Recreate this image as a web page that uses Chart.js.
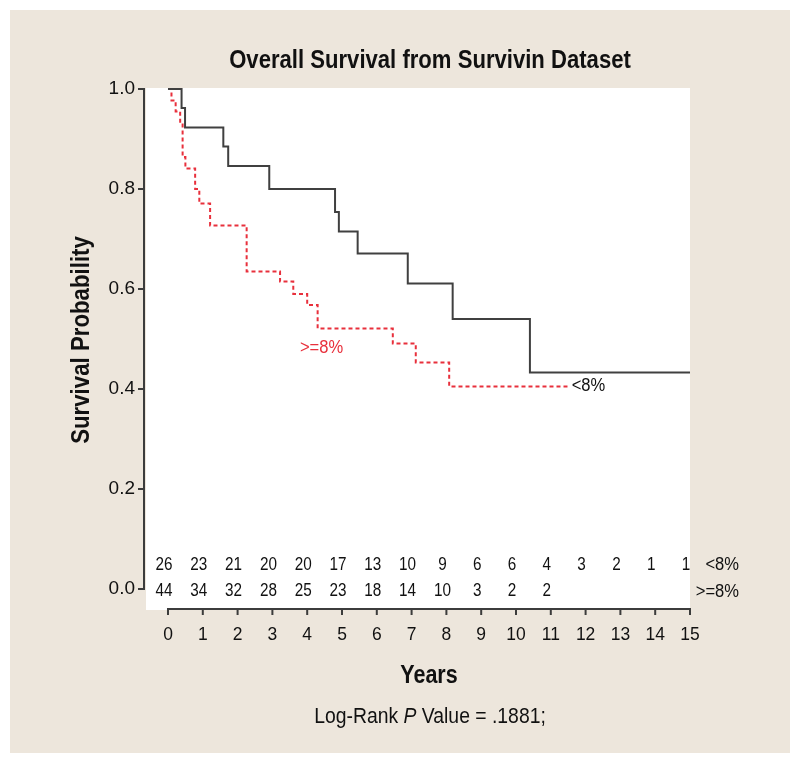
<!DOCTYPE html>
<html>
<head>
<meta charset="utf-8">
<script src="https://cdn.jsdelivr.net/npm/chart.js@4.4.1/dist/chart.umd.min.js"></script>
<style>
html, body { margin: 0; padding: 0; background: #fff; }
canvas { display: block; }
</style>
</head>
<body>
<canvas id="kmChart" width="800" height="764"></canvas>
<script>
// Kaplan-Meier steps (years, survival probability)
const lowTimes = [0, 0.39, 0.49, 1.59, 1.73, 2.91, 4.80, 4.91, 5.45, 6.89, 8.18, 10.40, 15];
const lowSurv = [1.0, 0.962, 0.923, 0.885, 0.846, 0.800, 0.754, 0.715, 0.671, 0.611, 0.540, 0.433, 0.433];

const highTimes = [0, 0.10, 0.22, 0.35, 0.42, 0.50, 0.78, 0.90, 1.21, 2.26, 3.22, 3.60, 4.00, 4.30, 6.46, 7.12, 8.08, 11.5];
const highSurv = [1.0, 0.977, 0.955, 0.932, 0.864, 0.841, 0.800, 0.771, 0.727, 0.635, 0.615, 0.590, 0.568, 0.521, 0.491, 0.453, 0.405, 0.405];

const yearTicks = [0, 1, 2, 3, 4, 5, 6, 7, 8, 9, 10, 11, 12, 13, 14, 15];
const probTicks = [0, 0.2, 0.4, 0.6, 0.8, 1.0];

// numbers at risk under each year tick
const atRiskLow = [26, 23, 21, 20, 20, 17, 13, 10, 9, 6, 6, 4, 3, 2, 1, 1];
const atRiskHigh = [44, 34, 32, 28, 25, 23, 18, 14, 10, 3, 2, 2];
const groupNames = ['<8%', '>=8%'];

const FONT = '"Liberation Sans", Arial, Helvetica, sans-serif';
const INK = '#111111';
const AXIS = '#3c3c3c';
const RED = '#e8303c';

const toPoints = (xs, ys) => xs.map((x, i) => ({ x: x, y: ys[i] }));

// no condensed face installed, so squeeze the text horizontally
function squeezed(ctx, text, x, y, sx) {
    ctx.save();
    ctx.translate(x, y);
    ctx.scale(sx, 1);
    ctx.fillText(text, 0, 0);
    ctx.restore();
}

const decor = {
    id: 'decor',
    beforeDraw(chart) {
        const { ctx, chartArea: a } = chart;
        ctx.save();
        ctx.fillStyle = '#ffffff';
        ctx.fillRect(0, 0, chart.width, chart.height);
        ctx.fillStyle = '#ede6dc';
        ctx.fillRect(10, 10, 780, 743);
        ctx.fillStyle = '#ffffff';
        ctx.fillRect(a.left, a.top, a.right - a.left, a.bottom - a.top);
        ctx.restore();
    },
    afterDraw(chart) {
        const { ctx, chartArea: a } = chart;
        const xs = chart.scales.x;
        const ys = chart.scales.y;
        ctx.save();

        // y axis (detached, spans 0..1)
        const yAxisX = a.left - 2;
        ctx.strokeStyle = AXIS;
        ctx.lineWidth = 2;
        ctx.beginPath();
        ctx.moveTo(yAxisX, ys.getPixelForValue(0));
        ctx.lineTo(yAxisX, ys.getPixelForValue(1));
        probTicks.forEach(v => {
            const py = ys.getPixelForValue(v);
            ctx.moveTo(yAxisX + 1, py);
            ctx.lineTo(yAxisX - 6, py);
        });
        ctx.stroke();

        ctx.fillStyle = INK;
        ctx.font = '19px ' + FONT;
        ctx.textAlign = 'right';
        ctx.textBaseline = 'middle';
        probTicks.forEach(v => {
            ctx.fillText(v.toFixed(1), yAxisX - 9, ys.getPixelForValue(v));
        });

        // x axis (spans 0..15)
        const xAxisY = a.bottom - 1;
        ctx.beginPath();
        ctx.moveTo(xs.getPixelForValue(0), xAxisY);
        ctx.lineTo(xs.getPixelForValue(15), xAxisY);
        yearTicks.forEach(v => {
            const px = xs.getPixelForValue(v);
            ctx.moveTo(px, xAxisY - 1);
            ctx.lineTo(px, xAxisY + 6);
        });
        ctx.stroke();

        ctx.textAlign = 'center';
        yearTicks.forEach(v => {
            squeezed(ctx, String(v), xs.getPixelForValue(v), 635, 0.92);
        });

        // numbers at risk
        ctx.font = '18px ' + FONT;
        atRiskLow.forEach((n, i) => {
            squeezed(ctx, String(n), xs.getPixelForValue(yearTicks[i]) - 4, 565, 0.85);
        });
        atRiskHigh.forEach((n, i) => {
            squeezed(ctx, String(n), xs.getPixelForValue(yearTicks[i]) - 4, 591, 0.85);
        });
        ctx.textAlign = 'right';
        squeezed(ctx, groupNames[0], 739, 565, 0.92);
        squeezed(ctx, groupNames[1], 739, 592, 0.92);

        // curve labels
        ctx.textAlign = 'left';
        squeezed(ctx, groupNames[0], xs.getPixelForValue(11.6), ys.getPixelForValue(0.406), 0.92);
        ctx.fillStyle = RED;
        squeezed(ctx, groupNames[1], xs.getPixelForValue(3.79), ys.getPixelForValue(0.482), 0.92);

        // titles
        ctx.fillStyle = INK;
        ctx.textAlign = 'center';
        ctx.font = 'bold 26px ' + FONT;
        squeezed(ctx, 'Overall Survival from Survivin Dataset', 430, 61, 0.85);
        ctx.font = 'bold 25px ' + FONT;
        squeezed(ctx, 'Years', 429, 676, 0.86);

        ctx.save();
        ctx.translate(82, 340);
        ctx.rotate(-Math.PI / 2);
        squeezed(ctx, 'Survival Probability', 0, 0, 0.89);
        ctx.restore();

        // Log-rank note with italic P
        const sx = 0.88;
        const parts = [
            { t: 'Log-Rank ', f: '22px ' + FONT },
            { t: 'P', f: 'italic 22px ' + FONT },
            { t: ' Value = .1881;', f: '22px ' + FONT }
        ];
        let total = 0;
        parts.forEach(p => { ctx.font = p.f; p.w = ctx.measureText(p.t).width * sx; total += p.w; });
        let cx = 430 - total / 2;
        ctx.textAlign = 'left';
        parts.forEach(p => {
            ctx.font = p.f;
            squeezed(ctx, p.t, cx, 717, sx);
            cx += p.w;
        });

        ctx.restore();
    }
};

const chart = new Chart(document.getElementById('kmChart'), {
    type: 'line',
    data: {
        datasets: [{
            label: groupNames[0],
            data: toPoints(lowTimes, lowSurv),
            borderColor: '#404040',
            borderWidth: 2,
            stepped: 'before',
            pointRadius: 0,
            fill: false
        }, {
            label: groupNames[1],
            data: toPoints(highTimes, highSurv),
            borderColor: RED,
            borderWidth: 2,
            borderDash: [4, 3],
            stepped: 'before',
            pointRadius: 0,
            fill: false
        }]
    },
    options: {
        responsive: false,
        animation: false,
        layout: {
            padding: { left: 146, right: 110, top: 88, bottom: 154 }
        },
        plugins: {
            legend: { display: false },
            tooltip: { enabled: false },
            title: { display: false }
        },
        scales: {
            x: { type: 'linear', min: -0.632, max: 15, display: false },
            y: { type: 'linear', min: -0.042, max: 1.002, display: false }
        }
    },
    plugins: [decor]
});
</script>
</body>
</html>
